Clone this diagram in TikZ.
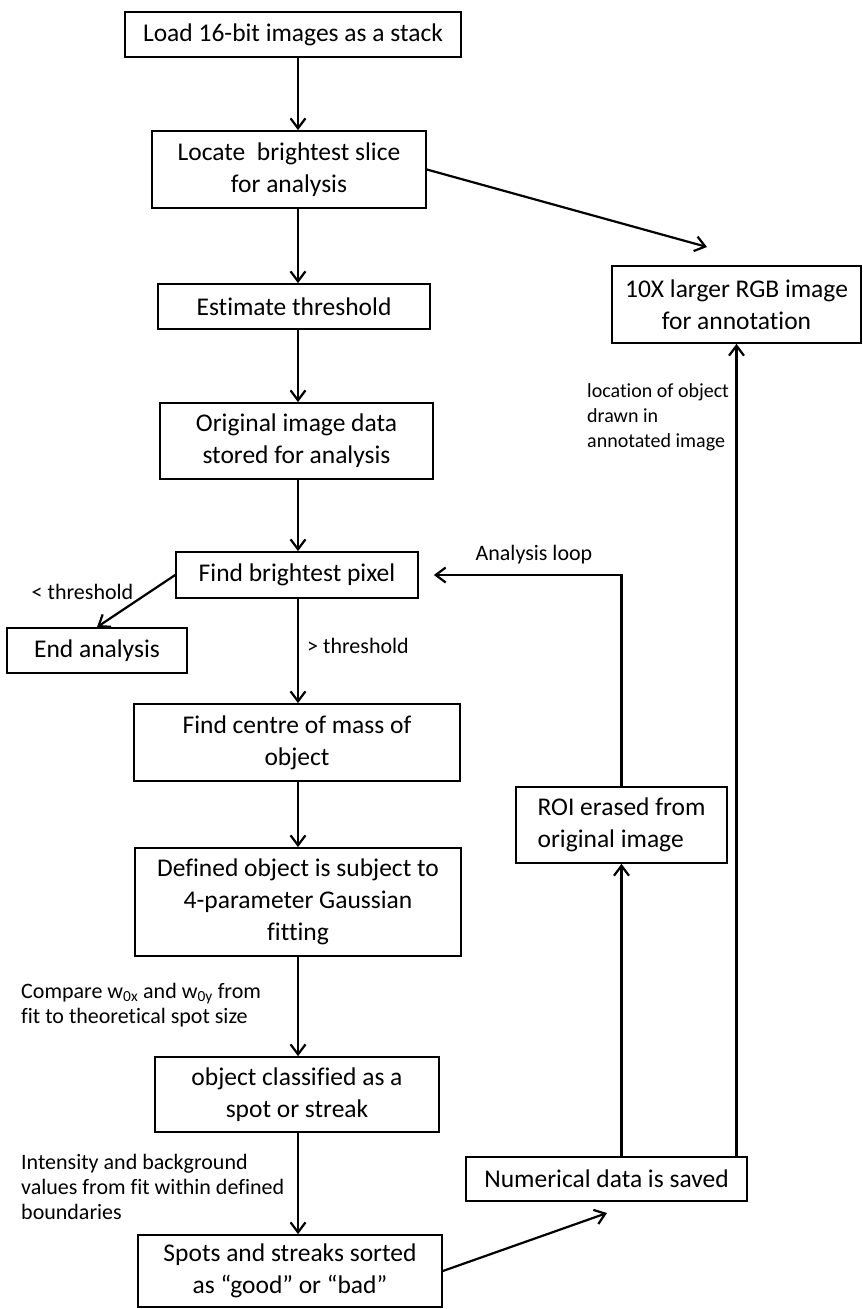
\documentclass[tikz,border=0pt]{standalone}
\usepackage{fontspec}
\setmainfont{Carlito}[Ligatures=NoCommon]
\usetikzlibrary{arrows.meta,positioning,calc}

\begin{document}
\begin{tikzpicture}[
  x=1pt, y=-1pt,
  every node/.style={font=\fontsize{25.5}{32}\selectfont},
  box/.style={draw, line width=1.7pt, inner sep=0pt, align=center},
  lbl/.style={font=\fontsize{22}{25}\selectfont, inner sep=0pt},
  arr/.style={line width=2.2pt, -{Straight Barb[length=10pt,width=15pt]}},
  line/.style={line width=2.2pt}
]
\useasboundingbox (0,0) rectangle (862,1309);
\coordinate (spine) at (298,0);
% main column
\node[box, minimum width=336, minimum height=45] (load) at (293,34.5) {Load 16-bit images as a stack};
\node[box, minimum width=274, minimum height=77] (locate) at (289,169.5) {Locate\ \ brightest slice\\for analysis};
\node[box, minimum width=272, minimum height=45] (thresh) at (294,306.5) {Estimate threshold};
\node[box, minimum width=273, minimum height=76] (orig) at (296.5,441) {Original image data\\stored for analysis};
\node[box, minimum width=242, minimum height=46] (pixel) at (297,575) {Find brightest pixel};
\node[box, minimum width=180, minimum height=45] (endan) at (97,650.5) {End analysis};
\node[box, minimum width=326, minimum height=77] (centre) at (297,742.5) {Find centre of mass of\\object};
\node[box, minimum width=326, minimum height=108] (gauss) at (298,902) {Defined object is subject to\\4-parameter Gaussian\\fitting};
\node[box, minimum width=284, minimum height=75] (classif) at (297,1094.5) {object classified as a\\spot or streak};
\node[box, minimum width=304, minimum height=72] (sorted) at (290,1271) {Spots and streaks sorted\\as “good” or “bad”};
% right column
\node[box, minimum width=249, minimum height=77] (rgb) at (736.5,304.5) {10X larger RGB image\\for annotation};
\node[box, minimum width=211, minimum height=76, align=left] (roi) at (621.5,825) {ROI erased from\\original image};
\node[box, minimum width=281, minimum height=44] (saved) at (606.5,1179) {Numerical data is saved};
% labels
\node[lbl] (lt) at (82.5,592) {< threshold};
\node[lbl, anchor=west] (gt) at (307,646) {> threshold};
\node[lbl, anchor=west, align=left] (cmp) at (21,1005) {Compare w\textsubscript{0x} and w\textsubscript{0y} from\\fit to theoretical spot size};
\node[lbl, anchor=west, align=left] (inten) at (21,1187) {Intensity and background\\values from fit within defined\\boundaries};
\node[lbl] (loopl) at (534,555) {Analysis loop};
\node[lbl, anchor=west, align=left, font=\fontsize{20}{25}\selectfont] (locl) at (587,417) {location of object\\drawn in\\annotated image};
% free arrow ends
\coordinate (rgbin) at (707,247);
\coordinate (savedin) at (607,1213);
% edges
\foreach \a/\b in {load/locate, locate/thresh, thresh/orig, orig/pixel, pixel/centre, centre/gauss, gauss/classif, classif/sorted}
  \draw[arr] (\a.south -| spine) -- (\b.north -| spine);
\draw[arr] (locate.east) -- (rgbin);
\draw[arr] (pixel.west) -- (endan.north);
\draw[arr] (sorted.east) -- (savedin);
\draw[arr] (saved.north -| roi) -- (roi.south);
\draw[arr] (rgb.south |- saved.north) -- (rgb.south);
\draw[arr, shorten >=15pt] (roi.north) |- (pixel.east);
\end{tikzpicture}
\end{document}
